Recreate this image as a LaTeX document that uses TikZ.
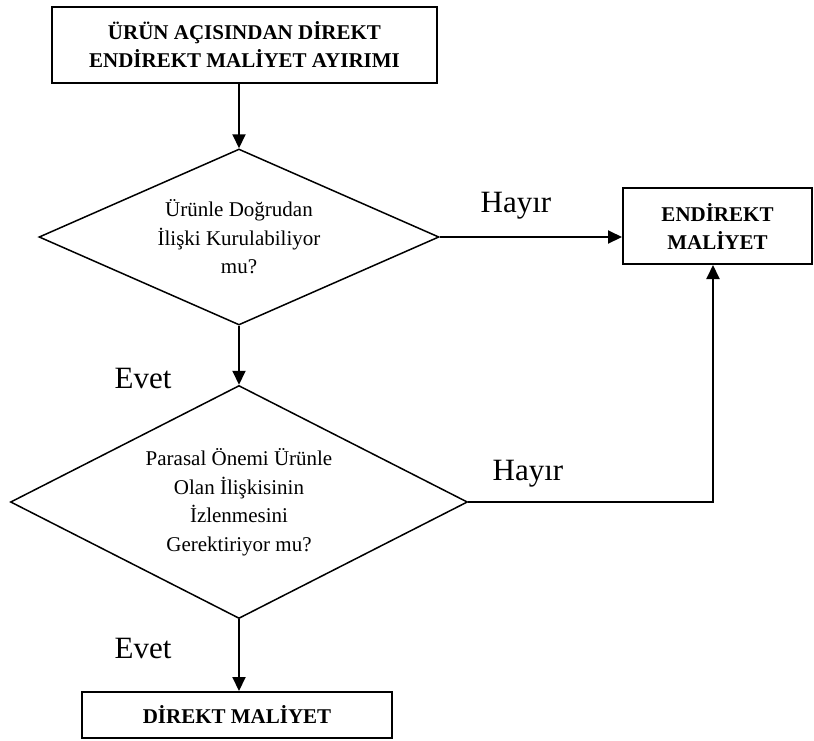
\documentclass[tikz,border=0pt]{standalone}
\usepackage{fontspec}
\setmainfont{Liberation Serif}
\usetikzlibrary{arrows.meta,shapes.geometric}
\begin{document}
\begin{tikzpicture}[x=1pt,y=-1pt,
  box/.style={draw,line width=2pt,inner sep=0pt,align=center,
    font=\fontsize{21}{28}\selectfont\bfseries},
  question/.style={draw,diamond,line width=1.5pt,inner sep=0pt,align=center,
    font=\fontsize{21}{28.5}\selectfont},
  answer/.style={anchor=base,inner sep=0pt,font=\fontsize{31}{31}\selectfont},
  flow/.style={line width=2pt,-{Triangle[length=14pt,width=13pt]}}]
\useasboundingbox (0,0) rectangle (814,740);

% boxes
\node[box,minimum width=385pt,minimum height=76pt] (start) at (244.5,45)
  {ÜRÜN AÇISINDAN DİREKT\\ENDİREKT MALİYET AYIRIMI};
\node[box,minimum width=189pt,minimum height=76pt] (endirekt) at (717.5,226)
  {ENDİREKT\\MALİYET};
\node[box,minimum width=310pt,minimum height=46pt] (direkt) at (237,715)
  {DİREKT MALİYET};

% decisions
\node[question,aspect=2.27,minimum width=400pt,minimum height=176pt] (q1) at (239,237)
  {Ürünle Doğrudan\\İlişki Kurulabiliyor\\mu?};
\node[question,aspect=1.96,minimum width=457pt,minimum height=233pt] (q2) at (239,502)
  {Parasal Önemi Ürünle\\Olan İlişkisinin\\İzlenmesini\\Gerektiriyor mu?};

% connectors
\draw[flow] (q1.north |- start.south) -- (q1.north);
\draw[flow] (q1.south) -- (q2.north);
\draw[flow] (q2.south) -- (q2.south |- direkt.north);
\draw[flow] (q1.east) -- (endirekt.west |- q1.east);
\draw[flow] (q2.east) -| ([xshift=-4.5pt]endirekt.south);

% answers
\node[answer] (h1) at (516,212) {Hayır};
\node[answer] (h2) at (528,480) {Hayır};
\node[answer] (e1) at (143,388) {Evet};
\node[answer] (e2) at (143,658) {Evet};
\end{tikzpicture}
\end{document}
